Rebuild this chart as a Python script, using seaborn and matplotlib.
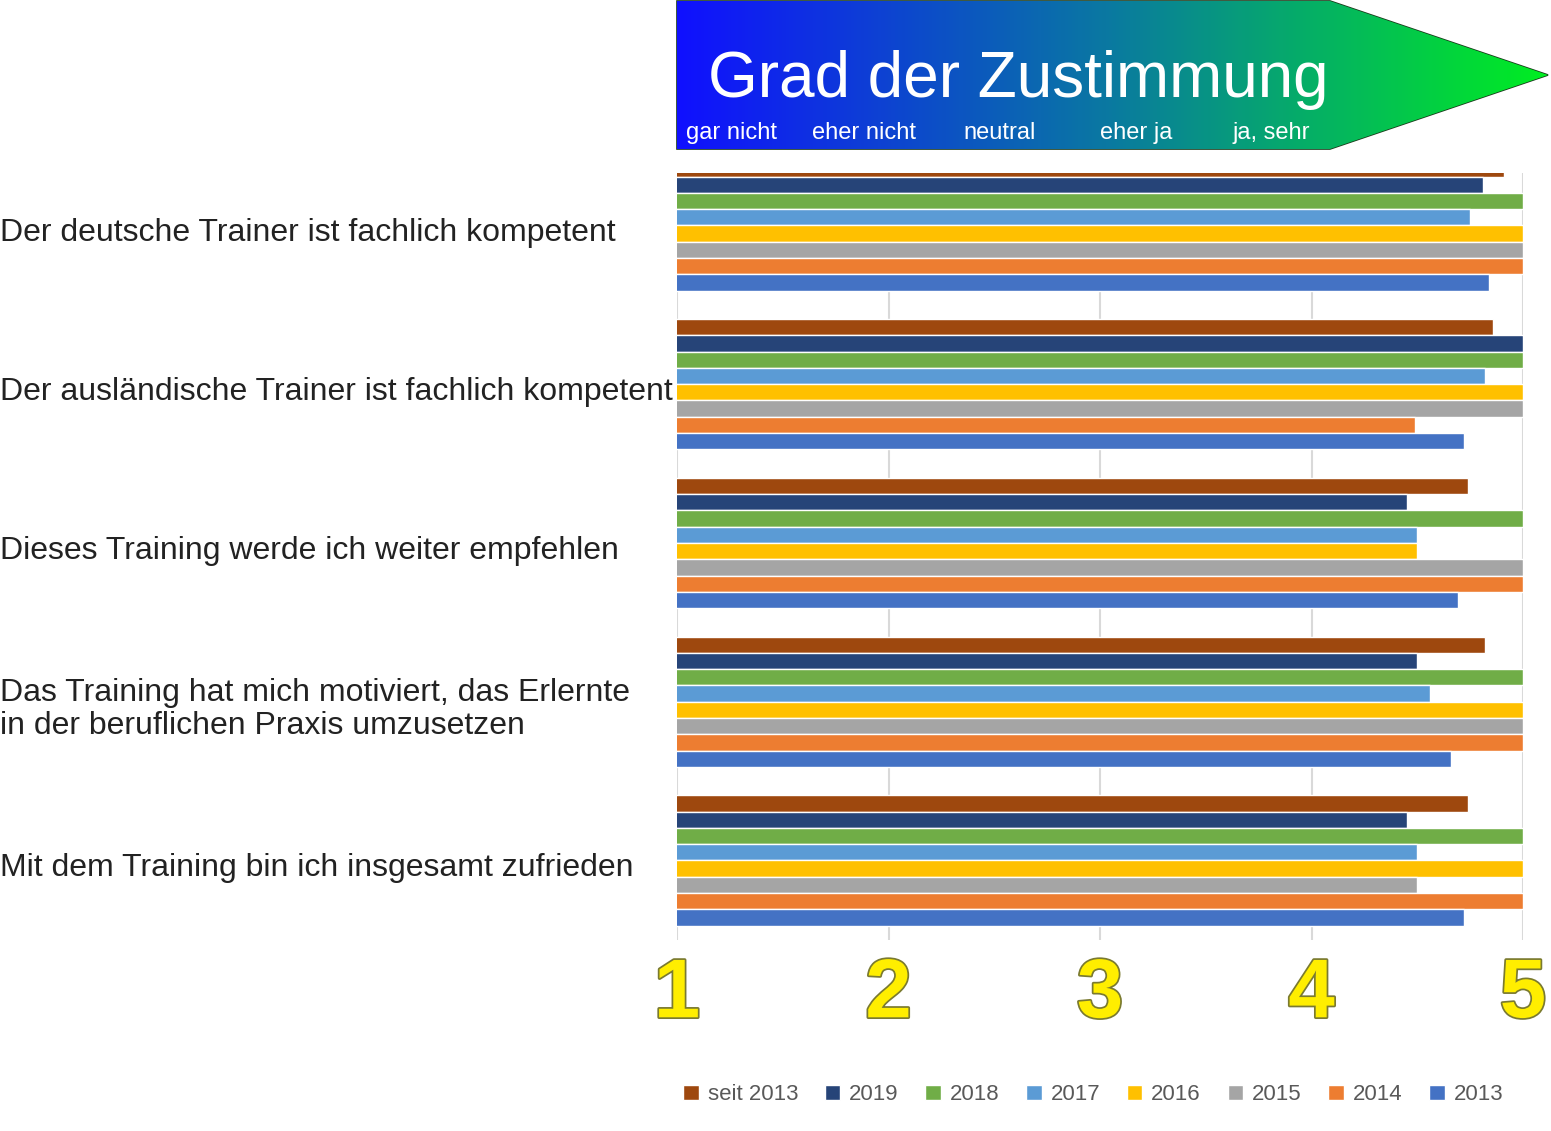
import matplotlib
matplotlib.use("Agg")
import matplotlib.pyplot as plt
import matplotlib.patheffects as pe
from matplotlib.patches import Polygon
from matplotlib.transforms import blended_transform_factory
import seaborn as sns
import numpy as np
import pandas as pd

# Daten
aussagen = [
    "Der deutsche Trainer ist fachlich kompetent",
    "Der ausländische Trainer ist fachlich kompetent",
    "Dieses Training werde ich weiter empfehlen",
    "Das Training hat mich motiviert, das Erlernte\nin der beruflichen Praxis umzusetzen",
    "Mit dem Training bin ich insgesamt zufrieden",
]
jahre = ["seit 2013", "2019", "2018", "2017", "2016", "2015", "2014", "2013"]
seit_2013 = [4.91, 4.86, 4.74, 4.82, 4.74]
w2019 = [4.81, 5.00, 4.45, 4.50, 4.45]
w2018 = [5.00, 5.00, 5.00, 5.00, 5.00]
w2017 = [4.75, 4.82, 4.50, 4.56, 4.50]
w2016 = [5.00, 5.00, 4.50, 5.00, 5.00]
w2015 = [5.00, 5.00, 5.00, 5.00, 4.50]
w2014 = [5.00, 4.49, 5.00, 5.00, 5.00]
w2013 = [4.84, 4.72, 4.69, 4.66, 4.72]
farben = ["#9e480e", "#264478", "#70ad47", "#5b9bd5", "#ffc000", "#a5a5a5", "#ed7d31", "#4472c4"]
skala = ["gar nicht", "eher nicht", "neutral", "eher ja", "ja, sehr"]

werte = [seit_2013, w2019, w2018, w2017, w2016, w2015, w2014, w2013]
rows = []
for jahr, serie in zip(jahre, werte):
    for a, v in zip(aussagen, serie):
        rows.append({"Aussage": a, "Jahr": jahr, "Wert": v})
df = pd.DataFrame(rows)

sns.set_style("white")
plt.rcParams["font.family"] = ["Liberation Sans", "DejaVu Sans"]

fig = plt.figure(figsize=(15.51, 11.31), dpi=100)
ax = fig.add_axes([0.4365, 0.169, 0.5455, 0.678])
sns.barplot(data=df, y="Aussage", x="Wert", hue="Jahr", hue_order=jahre,
            order=aussagen, palette=farben, orient="h", width=0.82,
            saturation=1, ax=ax, legend=True)
ax.set_xlim(1, 5)
ax.set_ylim(4.5, -0.33)
ax.set_xlabel("")
ax.set_ylabel("")
ax.set_yticks([])
ax.set_xticks([1, 2, 3, 4, 5])
ax.set_xticklabels([])
ax.tick_params(length=0)
ax.set_axisbelow(True)
ax.grid(axis="x", color="#d9d9d9", lw=1.5)
for s in ax.spines.values():
    s.set_visible(False)

# Aussagen links
trans = blended_transform_factory(fig.transFigure, ax.transData)
for i, a in enumerate(aussagen):
    ax.text(0.0, i + 0.05, a, transform=trans, ha="left", va="center",
            fontsize=23, color="#222222", linespacing=1.15, clip_on=False)

# Gelbe Skalenzahlen
trans_x = blended_transform_factory(ax.transData, fig.transFigure)
for i, k in enumerate([1, 2, 3, 4, 5]):
    ax.text(k, 0.12, str(k), transform=trans_x, ha="center", va="center",
            fontsize=60, fontweight="bold", color="#ffee00", clip_on=False,
            path_effects=[pe.withStroke(linewidth=2.5, foreground="#7a7a30")])

# Legende
h, l = ax.get_legend_handles_labels()
ax.legend(h, l, loc="lower right", bbox_to_anchor=(0.982, 0.005),
          bbox_transform=fig.transFigure, ncol=8, frameon=False,
          fontsize=16, handlelength=0.7, handleheight=0.7, columnspacing=1.2,
          handletextpad=0.4, labelcolor="#595959")

# Pfeil "Grad der Zustimmung"
hx = fig.add_axes([0, 0, 1, 1], zorder=5)
hx.set_xlim(0, 1551)
hx.set_ylim(1131, 0)
hx.axis("off")
pts = [(677, 1), (1330, 1), (1548, 75), (1330, 149), (677, 149)]
poly = Polygon(pts, closed=True, facecolor="none", edgecolor="#1a3a1a", lw=1.2)
hx.add_patch(poly)
grad = np.linspace(0, 1, 256).reshape(1, -1)
cmap = matplotlib.colors.LinearSegmentedColormap.from_list("z", ["#1010ff", "#0a7aa0", "#00ee20"])
im = hx.imshow(grad, extent=(677, 1548, 149, 1), cmap=cmap, aspect="auto", zorder=1)
im.set_clip_path(poly)
hx.text(708, 80, "Grad der Zustimmung", color="white", fontsize=46, va="center", ha="left", zorder=3)
for x, s in zip([732, 864, 1000, 1136, 1271], skala):
    hx.text(x, 133, s, color="white", fontsize=17, ha="center", va="center", zorder=3)

fig.savefig("out.png", dpi=100)
